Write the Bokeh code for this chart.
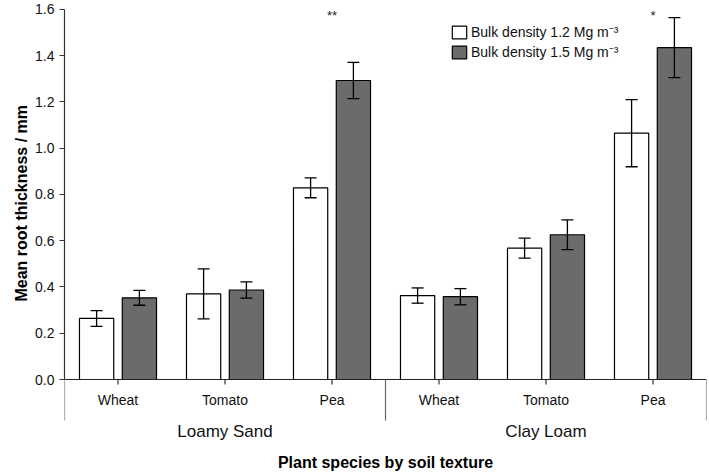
from bokeh.plotting import figure
from bokeh.models import (ColumnDataSource, Whisker, FixedTicker, Legend, LegendItem,
                          Range1d, TeeHead, NumeralTickFormatter, Title)
from bokeh.core.properties import value
from bokeh.embed import file_html
from bokeh.resources import INLINE

# ---------------- data ----------------
species = ["Wheat", "Tomato", "Pea"]
soils = ["Loamy Sand", "Clay Loam"]
bd12_mean = [0.264, 0.370, 0.829, 0.363, 0.568, 1.065]
bd12_se = [0.034, 0.108, 0.043, 0.033, 0.043, 0.145]
bd15_mean = [0.353, 0.387, 1.293, 0.358, 0.626, 1.435]
bd15_se = [0.032, 0.035, 0.078, 0.035, 0.064, 0.130]
significance = ["", "", "**", "", "", "*"]
y_ticks = [0.0, 0.2, 0.4, 0.6, 0.8, 1.0, 1.2, 1.4, 1.6]
legend_labels = ["Bulk density 1.2 Mg m\u207b\u00b3", "Bulk density 1.5 Mg m\u207b\u00b3"]
x_title = "Plant species by soil texture"
y_title = "Mean root thickness / mm"

FONT = value("Liberation Sans")
n_sp = len(species)
n_cat = n_sp * len(soils)
xc = [i + 0.5 for i in range(n_cat)]
off = 0.2
bw = 0.32
x12 = [x - off for x in xc]
x15 = [x + off for x in xc]

p = figure(width=709, height=474, output_backend="svg", toolbar_location=None,
           x_range=Range1d(0, n_cat), y_range=Range1d(-0.4108, 1.6389),
           x_axis_location=None,
           min_border_left=64, min_border_right=3, min_border_top=0, min_border_bottom=0)
p.outline_line_color = None
p.grid.grid_line_color = None
p.background_fill_color = "white"

# bars
r12 = p.vbar(x=x12, top=bd12_mean, bottom=0, width=bw, fill_color="white",
             line_color="black", line_width=1.2)
r15 = p.vbar(x=x15, top=bd15_mean, bottom=0, width=bw, fill_color="#6b6b6b",
             line_color="black", line_width=1.2)

# error bars
for xs, m, se in ((x12, bd12_mean, bd12_se), (x15, bd15_mean, bd15_se)):
    src = ColumnDataSource(dict(x=xs,
                                upper=[a + b for a, b in zip(m, se)],
                                lower=[a - b for a, b in zip(m, se)]))
    w = Whisker(source=src, base="x", upper="upper", lower="lower", dimension="height",
                line_color="black", line_width=1.3, level="overlay",
                upper_head=TeeHead(size=12, line_width=1.3, line_color="black"),
                lower_head=TeeHead(size=12, line_width=1.3, line_color="black"))
    p.add_layout(w)

# significance markers
p.text(x=xc, y=[1.574] * n_cat, text=significance, text_align="center",
       text_baseline="middle", text_font=FONT, text_font_size="13px", text_color="#222222")

# custom x axis (line at y=0, ticks, separators, labels)
p.segment(x0=[0], y0=[0], x1=[n_cat], y1=[0], line_color="#222222", line_width=1.2)
tick_len = 0.0216
p.segment(x0=xc, y0=[0] * n_cat, x1=xc, y1=[-tick_len] * n_cat,
          line_color="#222222", line_width=1.1)
bounds = [i * n_sp for i in range(len(soils) + 1)]
p.segment(x0=bounds, y0=[0] * len(bounds), x1=bounds, y1=[-0.1773] * len(bounds),
          line_color="#666666", line_width=1.2)
p.text(x=xc, y=[-0.0908] * n_cat, text=species * len(soils), text_align="center",
       text_baseline="middle", text_font=FONT, text_font_size="14px", text_color="#111111")
gx = [i * n_sp + n_sp / 2 for i in range(len(soils))]
p.text(x=gx, y=[-0.2249] * len(soils), text=soils, text_align="center",
       text_baseline="middle", text_font=FONT, text_font_size="17px", text_color="#111111")
p.text(x=[n_cat / 2], y=[-0.3589], text=[x_title], text_align="center",
       text_baseline="middle", text_font=FONT, text_font_size="16px",
       text_font_style="bold", text_color="#000000")

# y axis
ya = p.yaxis[0]
ya.bounds = (0, 1.6)
ya.ticker = FixedTicker(ticks=y_ticks)
ya.formatter = NumeralTickFormatter(format="0.0")
ya.major_tick_out = 5
ya.major_tick_in = 0
ya.minor_tick_line_color = None
ya.axis_line_color = "#333333"
ya.axis_line_width = 1.2
ya.major_tick_line_color = "#333333"
ya.major_label_text_font = "Liberation Sans"
ya.major_label_text_font_size = "14px"
ya.major_label_text_color = "#111111"
ya.major_label_standoff = 5

# y axis title, placed as a left-side title so it can be centred on the 0-1.6 span
p.add_layout(Title(text=y_title, align="left", offset=173, vertical_align="middle",
                   standoff=4, text_font="Liberation Sans", text_font_size="16px",
                   text_font_style="bold", text_color="#000000"), "left")

# legend
legend = Legend(items=[LegendItem(label=legend_labels[0], renderers=[r12]),
                       LegendItem(label=legend_labels[1], renderers=[r15])],
                location=(386, 413), border_line_color=None, background_fill_alpha=0,
                padding=0, margin=0, spacing=1, glyph_width=18, glyph_height=16,
                label_height=16, label_standoff=3, label_text_font="Liberation Sans",
                label_text_font_size="14px", label_text_baseline="middle",
                label_text_color="#111111")
p.add_layout(legend)

open("out.html", "w").write(file_html(p, INLINE))
